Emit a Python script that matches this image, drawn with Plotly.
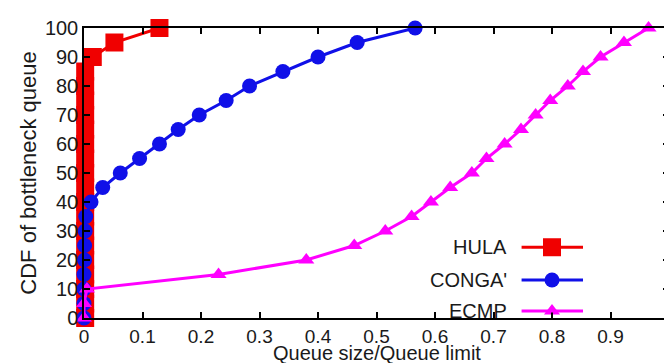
import plotly.graph_objects as go

# ---- data ----
cdf_levels = [0, 5, 10, 15, 20, 25, 30, 35, 40, 45, 50, 55, 60, 65, 70, 75, 80, 85, 90, 95, 100]

hula_y = [0, 5, 10, 15, 20, 25, 30, 35, 40, 45, 50, 55, 60, 65, 70, 75, 80, 85, 90, 95, 100]
hula_x = [0.002] * 18 + [0.015, 0.052, 0.129]

conga_y = cdf_levels
conga_x = [0.0, 0.0, 0.0, 0.0, 0.001, 0.001, 0.002, 0.003, 0.012, 0.032, 0.062, 0.095,
           0.129, 0.161, 0.197, 0.243, 0.283, 0.34, 0.40, 0.467, 0.566]

ecmp_y = cdf_levels
ecmp_x = [0.0, 0.0, 0.005, 0.23, 0.38, 0.462, 0.515, 0.56, 0.593, 0.626, 0.663, 0.688,
          0.719, 0.747, 0.772, 0.797, 0.827, 0.853, 0.883, 0.923, 0.965]

series_names = ["HULA", "CONGA'", "ECMP"]
series_colors = ["#f00000", "#1010e8", "#ff00ff"]
series_symbols = ["square", "circle", "triangle-up"]
series_sizes = [18, 15, 14]

x_ticks = [0, 0.1, 0.2, 0.3, 0.4, 0.5, 0.6, 0.7, 0.8, 0.9, 1]
x_ticklabels = ["0", "0.1", "0.2", "0.3", "0.4", "0.5", "0.6", "0.7", "0.8", "0.9", "1"]
y_ticks = [0, 10, 20, 30, 40, 50, 60, 70, 80, 90, 100]
x_title = "Queue size/Queue limit"
y_title = "CDF of bottleneck queue"

FONT = "Liberation Sans, Arial, sans-serif"
TXT = "#1a1a1a"

fig = go.Figure()
for xs, ys, name, col, sym, sz in zip([hula_x, conga_x, ecmp_x], [hula_y, conga_y, ecmp_y],
                                      series_names, series_colors, series_symbols, series_sizes):
    fig.add_trace(go.Scatter(
        x=xs, y=ys, mode="lines+markers", name=name,
        line=dict(color=col, width=3),
        marker=dict(symbol=sym, size=sz, color=col, line=dict(width=0)),
        showlegend=False, cliponaxis=False,
    ))

# ---- manual legend (text left, key on right) ----
leg_text_x = 0.726
leg_line_x0, leg_line_x1 = 0.748, 0.853
leg_mark_x = 0.800
leg_rows_y = [0.244, 0.131, 0.024]
for name, col, sym, sz, ly in zip(series_names, series_colors, series_symbols, series_sizes, leg_rows_y):
    fig.add_annotation(x=leg_text_x, y=ly, xref="paper", yref="paper", text=name,
                       showarrow=False, xanchor="right", yanchor="middle",
                       font=dict(family=FONT, size=20, color=TXT))
    fig.add_shape(type="line", xref="paper", yref="paper", x0=leg_line_x0, x1=leg_line_x1,
                  y0=ly, y1=ly, line=dict(color=col, width=3))
    fig.add_trace(go.Scatter(x=[leg_mark_x], y=[ly], xaxis="x2", yaxis="y2", mode="markers",
                             marker=dict(symbol=sym, size=sz, color=col), showlegend=False,
                             hoverinfo="skip", cliponaxis=False))

# x-axis title as annotation, tucked against the bottom edge like the reference
fig.add_annotation(x=0.5, y=0, xref="paper", yref="paper", text=x_title, showarrow=False,
                   xanchor="center", yanchor="bottom", yshift=-47, borderpad=0,
                   font=dict(family=FONT, size=20, color=TXT))

fig.update_layout(
    width=672, height=363,
    margin=dict(l=76, r=6, t=20, b=53),
    paper_bgcolor="white", plot_bgcolor="white",
    font=dict(family=FONT, color=TXT),
    xaxis=dict(range=[0, 1], tickvals=x_ticks, ticktext=x_ticklabels,
               ticks="inside", ticklen=6, tickwidth=1.5, tickcolor="black",
               showline=True, linecolor="black", linewidth=1.5, mirror="ticks",
               showgrid=False, zeroline=False, ticklabeloverflow="allow",
               tickfont=dict(family=FONT, size=19, color=TXT)),
    yaxis=dict(range=[0, 100], tickvals=y_ticks,
               ticks="inside", ticklen=6, tickwidth=1.5, tickcolor="black",
               showline=True, linecolor="black", linewidth=1.5, mirror="ticks",
               showgrid=False, zeroline=False,
               tickfont=dict(family=FONT, size=20, color=TXT),
               title=dict(text=y_title, standoff=2,
                          font=dict(family=FONT, size=22, color=TXT))),
    xaxis2=dict(range=[0, 1], overlaying="x", visible=False, fixedrange=True),
    yaxis2=dict(range=[0, 1], overlaying="y", visible=False, fixedrange=True),
)

fig.write_html("out.html")
